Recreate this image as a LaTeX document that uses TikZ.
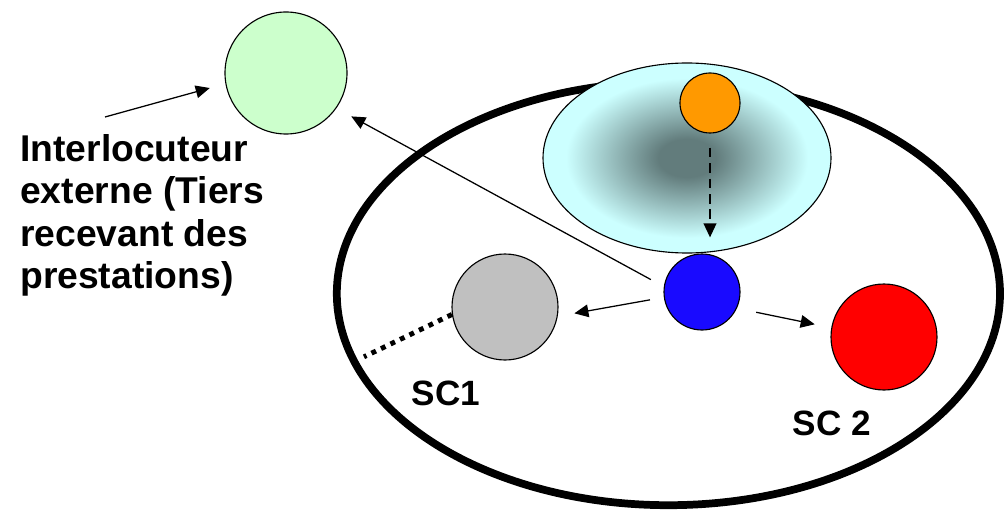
\documentclass[tikz,border=0pt]{standalone}
\usepackage{fontspec}
\setmainfont{Liberation Sans}
\usepackage{xcolor}
\usetikzlibrary{arrows.meta,positioning,calc}

\definecolor{vertpale}{RGB}{204,255,204}
\definecolor{cyanclair}{RGB}{204,255,255}
\definecolor{tache}{RGB}{98,124,124}
\definecolor{orangevif}{RGB}{255,153,0}
\definecolor{bleuvif}{RGB}{25,10,255}
\definecolor{grisclair}{RGB}{192,192,192}
\pgfdeclareradialshading{nuage}{\pgfpoint{0bp}{0bp}}{color(0bp)=(tache); color(5bp)=(tache); color(21bp)=(cyanclair); color(25bp)=(cyanclair); color(50bp)=(cyanclair)}

\begin{document}
\begin{tikzpicture}[
    >={Triangle[length=10pt,width=9pt]},
    rond/.style={circle, draw, line width=0.8pt, inner sep=0pt},
    fleche/.style={->, line width=0.9pt},
    etiquette/.style={font=\fontsize{25}{30}\selectfont\bfseries}
]
    \useasboundingbox (0,0) rectangle (25.2,12.75);

    % Groupe
    \draw[line width=5.5pt] (16.71,5.41) ellipse (8.29 and 5.29);
    \coordinate (bord) at (9.1,3.83);

    % Zone d'influence
    \shadedraw[shading=nuage, line width=0.8pt] (17.175,8.8) ellipse (3.6 and 2.375);

    % Cercles
    \node[rond, fill=vertpale, minimum size=3.05cm] (tiers) at (7.15,10.925) {};
    \node[rond, fill=orangevif, minimum size=1.5cm] (chef) at (17.75,10.175) {};
    \node[rond, fill=bleuvif, minimum size=1.9cm] (societe) at (17.55,5.45) {};
    \node[rond, fill=grisclair, minimum size=2.65cm] (sc1) at (12.625,5.075) {};
    \node[rond, fill=red, minimum size=2.65cm] (sc2) at (22.1,4.325) {};

    % Textes
    \node[etiquette] (nom1) at (11.15,2.925) {SC1};
    \node[etiquette] (nom2) at (20.8,2.175) {SC 2};
    \node[anchor=north west, align=left, inner sep=0pt,
          font=\fontsize{26.5}{30.2}\selectfont\bfseries] (tiersnom) at (0.5,9.4)
          {Interlocuteur\\externe (Tiers\\recevant des\\prestations)};

    % Fleches
    \coordinate (depart) at (2.625,9.825);
    \draw[fleche, shorten >=11.5pt] (depart) -- (tiers.190);
    \draw[fleche, shorten <=10.5pt, shorten >=12pt] (societe.172) -- (tiers.-35);
    \draw[fleche, shorten <=10pt, shorten >=12pt] (societe.188) -- (sc1.-10);
    \draw[fleche, shorten <=14pt, shorten >=12pt] (societe.-25) -- (sc2.170);
    \draw[->, line width=1.3pt, dash pattern=on 7pt off 4pt, shorten <=10pt, shorten >=11.4pt]
        (chef.south) -- (chef.south |- societe.north);
    \draw[line width=3.5pt, dash pattern=on 3.5pt off 4pt] (sc1.188) -- (bord);
\end{tikzpicture}
\end{document}
